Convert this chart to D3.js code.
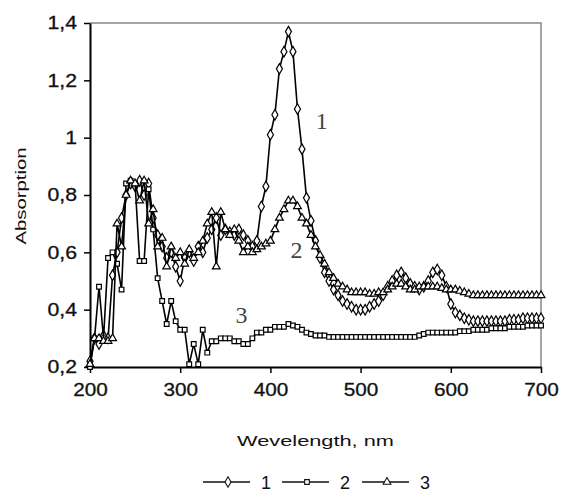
<!DOCTYPE html>
<html>
<head>
<meta charset="utf-8">
<script src="https://cdn.jsdelivr.net/npm/d3@7"></script>
<style>
  body { margin: 0; background: #fff; }
  text { font-family: "Liberation Sans", Arial, sans-serif; }
</style>
</head>
<body>
<div id="chart"></div>
<script>
// Wavelength grid, nm (every 5 nm)
var wavelengths = d3.range(200, 701, 5);

// Curve 1 (diamonds)
var series1 = [
  0.22, 0.30, 0.28, 0.31, 0.30, 0.52, 0.60, 0.72, 0.80, 0.84,
  0.83, 0.85, 0.80, 0.84, 0.72, 0.66, 0.62, 0.58, 0.60, 0.55,
  0.50, 0.58, 0.60, 0.57, 0.62, 0.60, 0.65, 0.68, 0.72, 0.66,
  0.68, 0.67, 0.66, 0.68, 0.66, 0.64, 0.62, 0.64, 0.76, 0.83,
  1.01, 1.08, 1.24, 1.30, 1.37, 1.30, 1.10, 0.96, 0.79, 0.71,
  0.64, 0.58, 0.53, 0.50, 0.47, 0.45, 0.43, 0.42, 0.41, 0.40,
  0.40, 0.40, 0.41, 0.42, 0.43, 0.45, 0.48, 0.50, 0.52, 0.53,
  0.51, 0.49, 0.48, 0.47, 0.48, 0.50, 0.53, 0.54, 0.52, 0.48,
  0.42, 0.39, 0.38, 0.37, 0.365, 0.36, 0.36, 0.36, 0.36, 0.36,
  0.36, 0.36, 0.36, 0.365, 0.365, 0.365, 0.37, 0.37, 0.37, 0.37,
  0.37
];

// Curve 2 (squares)
var series2 = [
  0.20, 0.30, 0.48, 0.30, 0.58, 0.60, 0.56, 0.47, 0.84, 0.85,
  0.84, 0.57, 0.57, 0.82, 0.68, 0.51, 0.43, 0.35, 0.43, 0.36,
  0.33, 0.33, 0.21, 0.28, 0.21, 0.33, 0.25, 0.29, 0.29, 0.30,
  0.30, 0.30, 0.29, 0.29, 0.28, 0.28, 0.30, 0.32, 0.32, 0.33,
  0.33, 0.34, 0.34, 0.34, 0.35, 0.345, 0.34, 0.33, 0.32, 0.315,
  0.31, 0.31, 0.31, 0.305, 0.305, 0.305, 0.305, 0.305, 0.305, 0.305,
  0.305, 0.305, 0.305, 0.305, 0.305, 0.305, 0.305, 0.305, 0.305, 0.305,
  0.305, 0.305, 0.305, 0.31, 0.315, 0.32, 0.32, 0.32, 0.32, 0.32,
  0.32, 0.32, 0.325, 0.325, 0.325, 0.33, 0.33, 0.33, 0.33, 0.335,
  0.335, 0.335, 0.335, 0.34, 0.34, 0.34, 0.34, 0.345, 0.345, 0.345,
  0.345
];

// Curve 3 (triangles)
var series3 = [
  0.21, 0.30, 0.30, 0.29, 0.29, 0.30, 0.70, 0.62, 0.80, 0.85,
  0.84, 0.78, 0.85, 0.70, 0.75, 0.62, 0.65, 0.55, 0.62, 0.58,
  0.60, 0.56, 0.61, 0.58, 0.60, 0.64, 0.70, 0.74, 0.55, 0.74,
  0.68, 0.66, 0.68, 0.64, 0.60, 0.62, 0.60, 0.61, 0.62, 0.63,
  0.64, 0.68, 0.72, 0.75, 0.78, 0.78, 0.76, 0.72, 0.70, 0.66,
  0.62, 0.59, 0.56, 0.53, 0.51, 0.49, 0.48, 0.47, 0.46, 0.46,
  0.46, 0.46, 0.455, 0.455, 0.46, 0.46, 0.47, 0.48, 0.49, 0.49,
  0.48, 0.47, 0.47, 0.48, 0.48, 0.48, 0.48, 0.48, 0.475, 0.47,
  0.47, 0.47, 0.465, 0.46, 0.455, 0.45, 0.45, 0.45, 0.45, 0.45,
  0.45, 0.45, 0.45, 0.45, 0.45, 0.45, 0.45, 0.45, 0.45, 0.45,
  0.45
];

var seriesNames = ["1", "2", "3"];
var seriesSymbols = [d3.symbolDiamond, d3.symbolSquare, d3.symbolTriangle];

var xTicks = [200, 300, 400, 500, 600, 700];
var yTicks = [0.2, 0.4, 0.6, 0.8, 1.0, 1.2, 1.4];

// In-plot curve labels: [text, wavelength, absorption]
var curveLabels = [["1", 457, 1.03], ["2", 429, 0.58], ["3", 368, 0.353]];

// Figure proportions:
var width = 563, height = 493;
var margin = { top: 23, right: 22, bottom: 126, left: 90 };

var svg = d3.select("#chart").append("svg")
  .attr("width", width)
  .attr("height", height);

var x = d3.scaleLinear().domain([200, 700]).range([margin.left, width - margin.right]);
var y = d3.scaleLinear().domain([0.2, 1.4]).range([height - margin.bottom, margin.top]);

var fmt = function(d) { return d3.format("~g")(d).replace(".", ","); };

// stretch text a bit, the original font is wider than Arial
function widen(sel, k) {
  sel.each(function() {
    var w = this.getComputedTextLength();
    d3.select(this).attr("textLength", w * k).attr("lengthAdjust", "spacingAndGlyphs");
  });
}

// frame: top and right borders in grey
svg.append("path")
  .attr("d", "M" + x(200) + "," + y(1.4) + "H" + x(700) + "V" + y(0.2))
  .attr("fill", "none")
  .attr("stroke", "#888")
  .attr("stroke-width", 1.5);

// Y axis
var yAxis = svg.append("g")
  .attr("transform", "translate(" + x(200) + ",0)")
  .call(d3.axisLeft(y).tickValues(yTicks).tickFormat(fmt).tickSize(6).tickSizeOuter(0));
yAxis.select(".domain").attr("stroke-width", 2);
yAxis.selectAll(".tick line").attr("stroke-width", 1.5);
yAxis.selectAll(".tick text")
  .attr("x", -13)
  .style("font-size", "18px")
  .attr("fill", "#111")
  .attr("stroke", "#111").attr("stroke-width", 0.3)
  .call(widen, 1.18);

// X axis
var xAxis = svg.append("g")
  .attr("transform", "translate(0," + y(0.2) + ")")
  .call(d3.axisBottom(x).tickValues(xTicks).tickSize(6).tickSizeOuter(0));
xAxis.select(".domain").attr("stroke-width", 2);
xAxis.selectAll(".tick line").attr("stroke-width", 1.5);
xAxis.selectAll(".tick text")
  .attr("y", 16)
  .style("font-size", "18px")
  .attr("fill", "#111")
  .attr("stroke", "#111").attr("stroke-width", 0.3)
  .call(widen, 1.15);

// Axis titles
svg.append("text")
  .attr("x", (x(200) + x(700)) / 2)
  .attr("y", 446)
  .attr("text-anchor", "middle")
  .style("font-size", "15px")
  .attr("fill", "#111")
  .text("Wevelength, nm")
  .call(widen, 1.45);

svg.append("text")
  .attr("transform", "translate(26,196) rotate(-90)")
  .attr("text-anchor", "middle")
  .style("font-size", "15px")
  .attr("fill", "#111")
  .text("Absorption")
  .call(widen, 1.35);

// Curves
var allSeries = [series1, series2, series3];
var line = d3.line()
  .x(function(d) { return x(d[0]); })
  .y(function(d) { return y(d[1]); });

var markerSizes = [32, 22, 26];

allSeries.forEach(function(vals, i) {
  var pts = wavelengths.map(function(w, j) { return [w, vals[j]]; });
  var g = svg.append("g");
  g.append("path")
    .datum(pts)
    .attr("d", line)
    .attr("fill", "none")
    .attr("stroke", "#000")
    .attr("stroke-width", 1.6);
  g.selectAll("path.mark")
    .data(pts)
    .enter().append("path")
    .attr("class", "mark")
    .attr("transform", function(d) { return "translate(" + x(d[0]) + "," + y(d[1]) + ")"; })
    .attr("d", d3.symbol().type(seriesSymbols[i]).size(markerSizes[i]))
    .attr("fill", "#fff")
    .attr("stroke", "#000")
    .attr("stroke-width", 1.2);
});

// Curve labels
svg.selectAll("text.curve-label")
  .data(curveLabels)
  .enter().append("text")
  .attr("class", "curve-label")
  .attr("x", function(d) { return x(d[1]); })
  .attr("y", function(d) { return y(d[2]); })
  .attr("text-anchor", "middle")
  .style("font-family", "'Liberation Serif', 'Times New Roman', serif")
  .style("font-size", "24px")
  .attr("fill", "#444")
  .text(function(d) { return d[0]; });

// Legend
var legendX = [203, 282, 362];
var legend = svg.append("g");
seriesNames.forEach(function(name, i) {
  var lg = legend.append("g").attr("transform", "translate(" + legendX[i] + ",482)");
  lg.append("line")
    .attr("x1", 0).attr("x2", 47)
    .attr("stroke", "#111").attr("stroke-width", 1.4);
  lg.append("path")
    .attr("transform", "translate(25,0)")
    .attr("d", d3.symbol().type(seriesSymbols[i]).size(markerSizes[i]))
    .attr("fill", "#fff").attr("stroke", "#111").attr("stroke-width", 1.1);
  lg.append("text")
    .attr("x", 58).attr("y", 7)
    .style("font-size", "18px")
    .attr("fill", "#111")
    .text(name);
});
</script>
</body>
</html>
